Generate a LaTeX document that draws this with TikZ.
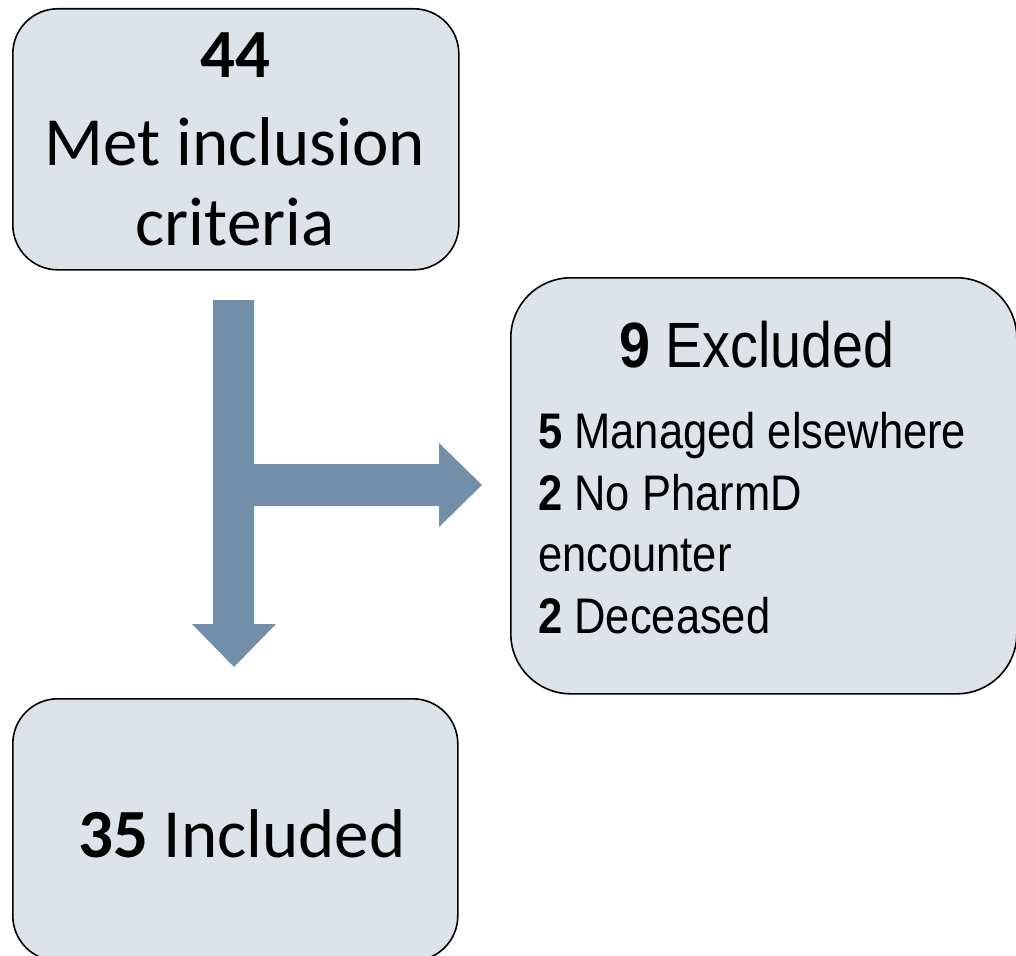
\documentclass[tikz,border=0pt]{standalone}
\usepackage{fontspec}
\newfontfamily\calibrifont{Carlito}
\newfontfamily\arialfont[FakeStretch=0.87]{Liberation Sans}
\definecolor{boxfill}{HTML}{DEE2E9}
\definecolor{arrowfill}{HTML}{728EA8}
\tikzset{
  flowbox/.style={draw=black, line width=1.6pt, fill=boxfill, anchor=north west, inner sep=0pt},
  caltext/.style={font=\calibrifont\fontsize{69}{83}\selectfont, inner sep=0pt, text=black},
  arialbig/.style={font=\arialfont\fontsize{64}{76}\selectfont, inner sep=0pt, text=black},
  arialsmall/.style={font=\arialfont\fontsize{50}{60}\selectfont, inner sep=0pt, text=black, anchor=base west},
  blockarrow/.style={fill=arrowfill, draw=none}
}
\begin{document}
\begin{tikzpicture}[x=1pt,y=-1pt]
\useasboundingbox (0,0) rectangle (1016,955);
\clip (0,0) rectangle (1016,955);
% boxes
\node[flowbox, rounded corners=45pt, minimum width=446pt, minimum height=261pt] (met) at (12,8) {};
\node[flowbox, rounded corners=60pt, minimum width=506pt, minimum height=416pt] (excl) at (510,277) {};
\node[flowbox, rounded corners=45pt, minimum width=445pt, minimum height=262pt] (incl) at (12,698) {};
% text top box
\node[caltext, anchor=base, font=\calibrifont\bfseries\fontsize{69}{83}\selectfont] (t44) at (235,78) {44};
\node[caltext, anchor=base] (tmet) at (235,165) {Met inclusion};
\node[caltext, anchor=base] (tcrit) at (235,245) {criteria};
% text bottom box
\node[caltext, anchor=base west] (t35) at (78,857) {\textbf{35} Included};
% text excluded box
\node[arialbig, anchor=base] (t9) at (757,367) {\textbf{9} Excluded};
\node[arialsmall] (l1) at (538,448) {\textbf{5} Managed elsewhere};
\node[arialsmall] (l2) at (538,510) {\textbf{2} No PharmD};
\node[arialsmall] (l3) at (538,571) {encounter};
\node[arialsmall] (l4) at (538,633) {\textbf{2} Deceased};
% block arrow
\fill[blockarrow] (213,300) -- (254,300) -- (254,464) -- (439,464) -- (439,443) -- (482,485)
  -- (439,527) -- (439,506) -- (254,506) -- (254,624) -- (276,624) -- (234,667)
  -- (192,624) -- (213,624) -- cycle;
\end{tikzpicture}
\end{document}
